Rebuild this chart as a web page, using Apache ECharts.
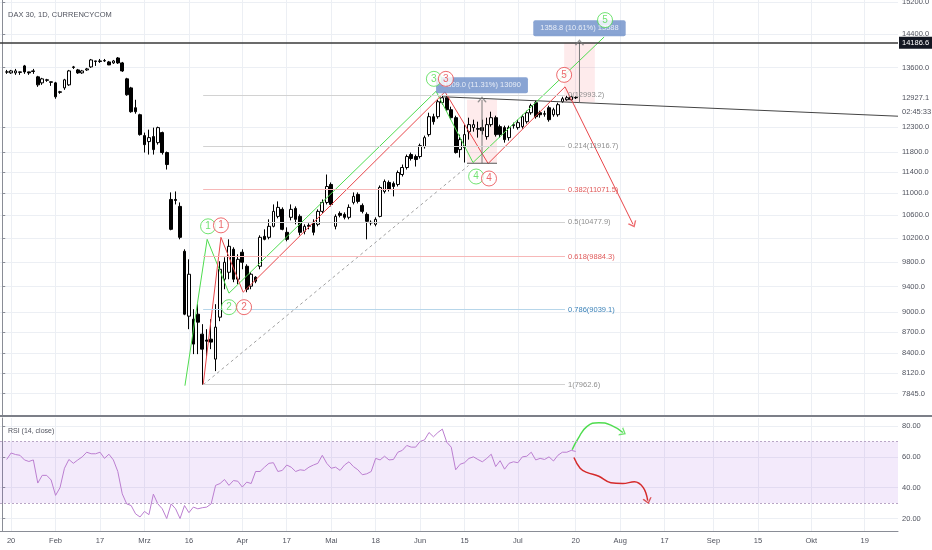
<!DOCTYPE html>
<html>
<head>
<meta charset="UTF-8">
<title>DAX 30, 1D</title>
<script src="https://cdn.jsdelivr.net/npm/echarts@6/dist/echarts.min.js"></script>
<style>
html, body { margin: 0; padding: 0; background: #fff; }
#chart { width: 932px; height: 550px; }
</style>
</head>
<body>
<div id="chart"></div>
<script>
// trading days on the time axis
var startDay = '2020-01-16';
var dayCount = 202;
var holidays = ['2020-04-10', '2020-04-13', '2020-05-01'];
var tickDates = ['2020-01-20', '2020-02-03', '2020-02-17', '2020-03-02', '2020-03-16', '2020-04-01', '2020-04-17', '2020-05-04', '2020-05-18', '2020-06-01', '2020-06-15', '2020-07-01', '2020-07-20', '2020-08-03', '2020-08-17', '2020-09-01', '2020-09-15', '2020-10-01', '2020-10-19'];
var tickTexts = ['20', 'Feb', '17', 'Mrz', '16', 'Apr', '17', 'Mai', '18', 'Jun', '15', 'Jul', '20', 'Aug', '17', 'Sep', '15', 'Okt', '19'];

// daily bars from firstBar on: [open, close, low, high]
var firstBar = '2020-01-17';
var ohlc = [
  [13500, 13505, 13460, 13550], [13482, 13527, 13460, 13550], [13482, 13527, 13437, 13573], [13505, 13495, 13437, 13510],
  [13642, 13505, 13460, 13665], [13505, 13482, 13437, 13510], [13527, 13515, 13460, 13573], [13392, 13212, 13168, 13415],
  [13257, 13347, 13212, 13370], [13325, 13315, 13280, 13347], [13280, 13270, 13190, 13285], [13257, 12949, 12906, 13280],
  [13058, 13048, 13015, 13079], [13145, 13325, 13101, 13347], [13212, 13527, 13190, 13550], [13619, 13608, 13573, 13642],
  [13550, 13482, 13460, 13573], [13482, 13527, 13460, 13550], [13550, 13573, 13527, 13596], [13619, 13780, 13596, 13803],
  [13757, 13746, 13642, 13760], [13757, 13746, 13711, 13803], [13757, 13768, 13734, 13803], [13734, 13665, 13660, 13757],
  [13711, 13757, 13688, 13780], [13826, 13711, 13688, 13849], [13711, 13527, 13505, 13734], [13347, 12993, 12971, 13370],
  [13145, 12627, 12605, 13168], [12712, 12627, 12584, 12884], [12563, 12148, 12127, 12584], [12127, 11944, 11785, 12189],
  [12005, 12086, 11745, 12250], [12107, 11844, 11745, 12292], [11984, 12292, 11944, 12312], [12189, 11785, 11745, 12209],
  [11785, 11549, 11452, 11804], [10888, 10352, 10335, 11018], [10888, 10870, 10797, 11036], [10761, 10213, 10179, 10833],
  [9975, 8970, 8955, 10009], [8940, 9596, 8746, 9841], [8895, 8528, 8385, 9046], [8970, 8850, 8385, 9123],
  [8673, 8456, 7962.6, 8820], [8586, 8571, 8350, 8746], [8600, 8557, 8456, 8895], [8315, 8776, 8148, 9123],
  [8925, 9677, 8865, 9808], [9516, 9792, 9356, 9875], [9628, 10060, 9516, 10179], [10009, 9516, 9468, 10043],
  [9516, 9841, 9436, 9925], [9959, 9792, 9677, 10009], [9726, 9356, 9309, 9759], [9404, 9596, 9356, 9628],
  [9548, 9484, 9452, 9564], [9726, 10213, 9677, 10248], [10230, 10179, 10162, 10352], [10213, 10405, 10179, 10528],
  [10405, 10671, 10387, 10797], [10581, 10743, 10546, 10852], [10707, 10352, 10335, 10743], [10300, 10179, 10145, 10387],
  [10564, 10707, 10510, 10797], [10725, 10528, 10440, 10761], [10581, 10300, 10248, 10617], [10317, 10405, 10265, 10440],
  [10422, 10405, 10352, 10458], [10475, 10300, 10248, 10528], [10440, 10671, 10405, 10707], [10671, 10833, 10635, 10888],
  [10833, 11129, 10797, 11356], [11167, 10797, 10761, 11205], [10405, 10581, 10352, 10617], [10635, 10599, 10564, 10671],
  [10617, 10564, 10528, 10653], [10564, 10743, 10528, 10797], [10833, 10944, 10797, 11018], [10981, 10852, 10815, 11018],
  [10779, 10671, 10635, 10815], [10617, 10493, 10179, 10653], [10475, 10465, 10422, 10510], [10440, 10528, 10405, 10564],
  [10581, 11111, 10564, 11148], [11036, 11223, 10999, 11261], [11205, 11073, 11036, 11242], [11186, 11129, 10944, 11223],
  [11167, 11394, 11129, 11433], [11356, 11491, 11318, 11549], [11491, 11706, 11452, 11745], [11745, 11667, 11627, 11785],
  [11706, 11647, 11510, 11745], [11706, 11924, 11667, 11964], [11904, 12086, 11864, 12127], [12148, 12521, 12107, 12605],
  [12521, 12416, 12354, 12584], [12521, 12841, 12479, 12884], [12820, 12928, 12777, 12971], [12928, 12669, 12648, 12993.2],
  [12669, 12500, 12458, 12734], [12500, 11785, 11765, 12542], [11844, 12045, 11686, 12148], [11884, 12148, 11588, 12354],
  [12209, 12354, 12045, 12500], [12292, 12354, 12209, 12458], [12271, 12260, 12086, 12416], [12292, 12230, 12148, 12458],
  [12107, 12354, 12045, 12500], [12354, 12500, 12312, 12627], [12500, 12148, 12107, 12542], [12312, 12148, 12086, 12354],
  [12292, 12045, 11984, 12333], [12086, 12292, 12025, 12333], [12333, 12354, 12271, 12396], [12292, 12396, 12250, 12458],
  [12312, 12521, 12271, 12563], [12416, 12605, 12375, 12648], [12605, 12755, 12563, 12798], [12820, 12521, 12479, 12863],
  [12605, 12563, 12500, 12648], [12584, 12574, 12521, 12648], [12712, 12458, 12416, 12755], [12563, 12669, 12521, 12712],
  [12563, 12777, 12521, 12820], [12841, 12906, 12820, 12949], [12884, 12928, 12863, 12971], [12884, 12949, 12863, 12971],
  [12935, 12927.1, 12900, 12960]
];
var rsi = [
  58.3, 62.5, 61.5, 61, 58, 57, 58, 43, 48, 48, 45, 35, 40, 52.6, 58.3, 55.8, 58, 60, 63, 62, 62, 63, 59, 61.7, 58, 50.5,
  36, 29.5, 28.4, 23, 21, 24.6, 22.5, 35.8, 29.5, 26.3, 20, 29.5, 26.3, 20, 28.4, 23.8, 27.4, 26.3, 27, 27.4, 29.5,
  41.5, 42.7, 45.3, 41.5, 44.6, 44.2, 40.4, 43.6, 42.7, 50.5, 50.5, 53.3, 55.8, 56.2, 50.5, 51.2, 54.7, 53.3, 50.5,
  51.6, 51.2, 53.3, 54.7, 55.8, 61, 55.8, 52.6, 53.3, 51.2, 54.7, 56.8, 53.7, 51.6, 48.4, 49, 50.5, 59, 58, 60.4, 58,
  58.3, 63, 64.2, 67.4, 66.3, 66.3, 70, 71, 75.8, 73, 75.8, 78, 69.5, 66.3, 51.6, 55.2, 56.2, 59, 60, 58.3, 56.8, 59,
  61.7, 53.7, 57.5, 52, 55.8, 56.8, 56.2, 60, 60.4, 63, 58, 59, 58.3, 60, 57.3, 61, 63, 63, 64.2, 63.5
];

// price axis labels
var priceTicks = [7845, 8120, 8400, 8700, 9000, 9400, 9800, 10200, 10600, 11000, 11400, 11800, 12300, 13600, 14400, 15200];
var rsiTicks = [20, 40, 60, 80];
var resistance = 14186.6;
var lastPrice = 12927.1;
var countdown = '02:45:33';

// drawings, as [bar index, price]
var greenWave = [[41.1, 7950], [46.1, 10179], [51.0, 9294], [97.6, 13070], [105.9, 11588], [135.4, 14325]];
var redWave = [[45.2, 7962.6], [49.2, 10213], [54.2, 9309], [99.6, 13058], [109.3, 11569], [126.6, 13168], [141.9, 10440]];
var greenMarks = [['1', 46.3, 10405], ['2', 51.0, 9077], ['3', 97.1, 13347], ['4', 106.6, 11318], ['5', 135.6, 14740]];
var redMarks = [['1', 49.2, 10422], ['2', 54.4, 9077], ['3', 99.8, 13347], ['4', 109.5, 11280], ['5', 126.4, 13437]];
var dashedLine = [[45.2, 7962.6], [104.9, 11530]];
var trendLine = [[99.2, 12949], [201.5, 12531]];

var fibFrom = 45.2, fibTo = 126.6;
var fibLevels = ['0', '0.214', '0.382', '0.5', '0.618', '0.786', '1'];
var fibPrices = [12993.2, 11916.7, 11071.5, 10477.9, 9884.3, 9039.1, 7962.6];

// price range tool: [from bar, to bar, low, high]
var ranges = [[104.55, 111.3, 11574, 12883], [126.4, 133.3, 12828, 14186.6]];
var rangeTexts = ['1309.0 (11.31%) 13090', '1358.8 (10.61%) 13588'];

// hand drawn rsi paths, as [bar index, rsi]
var rsiUp = [[128.2, 64.6], [129.5, 71.6], [131.5, 79.6], [134.2, 82.1], [136.9, 80.6], [139.6, 75.8]];
var rsiDown = [[128.6, 59.6], [130, 52.6], [131.5, 49.9], [134.2, 47.4], [136.9, 43.2], [139.6, 42.7], [142.2, 43.8], [144.2, 40], [145.2, 31.6]];

var GREEN = '#4fdc4f', RED = '#e8464a';
var font = 'Liberation Sans, Arial, sans-serif';
var chevron = 'path://M0,0L5,6L10,0';

var days = [];
var d = new Date(startDay + 'T00:00:00Z');
while (days.length < dayCount) {
  var s = d.toISOString().slice(0, 10);
  var wd = d.getUTCDay();
  if (wd !== 0 && wd !== 6 && holidays.indexOf(s) < 0) days.push(s);
  d.setUTCDate(d.getUTCDate() + 1);
}
var tickText = {};
tickDates.forEach(function (t, j) { tickText[t] = tickTexts[j]; });
var tickK = tickDates.map(function (t) { return days.indexOf(t); });
function isTick(idx, val) { return tickText[val] !== undefined; }

var first = days.indexOf(firstBar);
var candles = ohlc.map(function (v, j) { return [first + j, v[0], v[1], v[2], v[3]]; });
var rsiData = rsi.map(function (v, j) { return [first + j, v]; });

function circles(list, color) {
  return list.map(function (m) {
    return { name: m[0], value: [m[1], m[2]], itemStyle: { borderColor: color }, label: { color: color } };
  });
}

var chart = echarts.init(document.getElementById('chart'));
var gridLine = { color: '#eceff4', width: 1 };
var axisText = { fontSize: 7.5, color: '#50535e', fontFamily: font };

var option = {
  animation: false,
  textStyle: { fontFamily: font },
  title: [
    { text: 'DAX 30, 1D, CURRENCYCOM', left: 3, top: 6, textStyle: { fontSize: 7.5, fontWeight: 'normal', color: '#50535e' } },
    { text: 'RSI (14, close)', left: 3, top: 423, textStyle: { fontSize: 7, fontWeight: 'normal', color: '#50535e' } }
  ],
  graphic: [
    { type: 'rect', shape: { x: 0, y: 415, width: 932, height: 2 }, style: { fill: '#7c7f88' }, z: 10 }
  ],
  grid: [
    { left: 0, right: 34, top: 0, height: 415, outerBoundsMode: 'none' },
    { left: 0, right: 34, top: 418, height: 113, outerBoundsMode: 'none' }
  ],
  xAxis: [
    { type: 'category', gridIndex: 0, data: days, axisLine: { show: false }, axisTick: { show: false }, axisLabel: { show: false }, splitLine: { show: false } },
    { type: 'value', gridIndex: 0, min: -0.5, max: dayCount - 0.5, axisLine: { show: false }, axisLabel: { show: false },
      axisTick: { show: false, customValues: tickK }, splitLine: { show: true, lineStyle: gridLine } },
    { type: 'category', gridIndex: 1, data: days,
      axisLine: { lineStyle: { color: '#8a8d96' } },
      axisTick: { interval: isTick, alignWithLabel: true, length: 3, lineStyle: { color: '#8a8d96' } },
      axisLabel: Object.assign({ interval: isTick, margin: 6, formatter: function (v) { return tickText[v] || ''; } }, axisText),
      splitLine: { show: false } },
    { type: 'value', gridIndex: 1, min: -0.5, max: dayCount - 0.5, axisLine: { show: false }, axisLabel: { show: false },
      axisTick: { show: false, customValues: tickK }, splitLine: { show: true, lineStyle: gridLine } }
  ],
  yAxis: [
    { type: 'log', gridIndex: 0, position: 'right', min: 7566, max: 15248,
      axisLine: { show: true, lineStyle: { color: '#8a8d96' } },
      axisTick: { show: true, length: 3, customValues: priceTicks, lineStyle: { color: '#8a8d96' } },
      axisLabel: Object.assign({ customValues: priceTicks, margin: 4, formatter: function (v) { return v.toFixed(1); } }, axisText),
      splitLine: { show: true, lineStyle: gridLine } },
    { type: 'value', gridIndex: 1, position: 'right', min: 11.9, max: 85.2,
      axisLine: { show: true, lineStyle: { color: '#8a8d96' } },
      axisTick: { show: true, length: 3, customValues: rsiTicks, lineStyle: { color: '#8a8d96' } },
      axisLabel: Object.assign({ customValues: rsiTicks, margin: 4, formatter: function (v) { return v.toFixed(2); } }, axisText),
      splitLine: { show: true, lineStyle: gridLine } }
  ],
  series: [
    {
      type: 'line', xAxisIndex: 1, yAxisIndex: 0, data: [], silent: true, z: 1,
      markArea: {
        silent: true, itemStyle: { color: 'rgba(242, 54, 69, 0.1)' },
        data: ranges.map(function (r) { return [{ coord: [r[0], r[2]] }, { coord: [r[1], r[3]] }]; })
      }
    },
    {
      type: 'line', xAxisIndex: 1, yAxisIndex: 0, data: [], silent: true, z: 1,
      markLine: {
        silent: true, symbol: ['none', 'none'],
        label: { position: 'end', distance: 3, fontSize: 7.5, fontFamily: font },
        data: fibLevels.map(function (lv, j) {
          var red = lv === '0.382' || lv === '0.618', blue = lv === '0.786';
          return [
            { coord: [fibFrom, fibPrices[j]],
              lineStyle: { type: 'solid', width: 1, color: red ? '#f7b8b8' : blue ? '#b7d6ea' : '#d2d2d2' },
              label: { formatter: lv + '(' + fibPrices[j] + ')', color: red ? '#e05a5a' : blue ? '#3b82b8' : '#8f8f8f' } },
            { coord: [fibTo, fibPrices[j]] }
          ];
        })
      }
    },
    {
      type: 'candlestick', xAxisIndex: 0, yAxisIndex: 0, data: candles, encode: { x: 0, y: [1, 2, 3, 4] },
      barWidth: 3.2, silent: true, z: 3,
      itemStyle: { color: '#ffffff', color0: '#000000', borderColor: '#000000', borderColor0: '#000000', borderWidth: 1 },
      markLine: {
        silent: true, symbol: ['none', 'none'],
        data: [
          { yAxis: resistance, lineStyle: { type: 'solid', color: '#3a3a3a', width: 1.5 },
            label: { position: 'end', distance: 1, formatter: String(resistance), color: '#fff', backgroundColor: '#131722', padding: [2, 3, 2, 3], fontSize: 7.5 } },
          { yAxis: lastPrice, lineStyle: { color: 'rgba(0,0,0,0)', width: 0 },
            label: { show: true, position: 'end', distance: 4, offset: [0, 7], fontSize: 7.5, color: '#50535e', lineHeight: 14,
              formatter: lastPrice + '\n' + countdown } }
        ]
      }
    },
    { type: 'line', xAxisIndex: 1, yAxisIndex: 0, data: trendLine, symbol: 'none', silent: true, z: 4,
      lineStyle: { color: '#444', width: 1 } },
    { type: 'line', xAxisIndex: 1, yAxisIndex: 0, data: dashedLine, symbol: 'none', silent: true, z: 2,
      lineStyle: { color: '#a0a0a0', width: 1, type: [3, 3] } },
    { type: 'line', xAxisIndex: 1, yAxisIndex: 0, data: greenWave, symbol: 'none', silent: true, z: 4,
      lineStyle: { color: GREEN, width: 1 } },
    { type: 'line', xAxisIndex: 1, yAxisIndex: 0, data: redWave, symbol: 'none', silent: true, z: 4,
      lineStyle: { color: RED, width: 1 } }
  ].concat(ranges.map(function (r) {
    var mid = (r[0] + r[1]) / 2;
    return { type: 'line', xAxisIndex: 1, yAxisIndex: 0, data: [[mid, r[2]], [mid, r[3]]], symbol: 'none', silent: true, z: 4,
      lineStyle: { color: '#7a7a7a', width: 1 } };
  })).concat([
    { type: 'line', xAxisIndex: 1, yAxisIndex: 0, data: [[ranges[0][0], ranges[0][2]], [ranges[0][1], ranges[0][2]]],
      symbol: 'none', silent: true, z: 4, lineStyle: { color: '#555', width: 1 } },
    {
      type: 'scatter', xAxisIndex: 1, yAxisIndex: 0, silent: true, z: 5, symbol: chevron, symbolSize: [8, 5],
      itemStyle: { color: 'rgba(0,0,0,0)', borderWidth: 1.2 },
      data: [
        { value: redWave[redWave.length - 1], symbolRotate: 26, itemStyle: { borderColor: RED } },
        { value: [(ranges[0][0] + ranges[0][1]) / 2, ranges[0][3]], symbolRotate: 180, itemStyle: { borderColor: '#7a7a7a' } },
        { value: [(ranges[1][0] + ranges[1][1]) / 2, ranges[1][3]], symbolRotate: 180, itemStyle: { borderColor: '#7a7a7a' } }
      ]
    },
    {
      type: 'scatter', xAxisIndex: 1, yAxisIndex: 0, silent: true, z: 6, symbolSize: 1,
      itemStyle: { color: 'rgba(0,0,0,0)' },
      label: { show: true, position: 'top', distance: 6, color: '#fff', fontSize: 7.5, backgroundColor: '#6b8dc8',
        padding: [4, 7, 4, 7], borderRadius: 2, formatter: '{b}' },
      data: ranges.map(function (r, j) { return { name: rangeTexts[j], value: [(r[0] + r[1]) / 2, r[3]] }; })
    },
    {
      type: 'scatter', xAxisIndex: 1, yAxisIndex: 0, silent: true, z: 7, symbol: 'circle', symbolSize: 15,
      itemStyle: { color: '#ffffff', borderWidth: 1 },
      label: { show: true, position: 'inside', fontSize: 10, formatter: '{b}' },
      data: circles(greenMarks, GREEN).concat(circles(redMarks, RED))
    },
    {
      type: 'line', xAxisIndex: 2, yAxisIndex: 1, data: rsiData, symbol: 'none', silent: true, z: 3,
      lineStyle: { color: '#bb7ed0', width: 1 },
      markArea: { silent: true, itemStyle: { color: 'rgba(150, 60, 220, 0.11)' }, data: [[{ yAxis: 30 }, { yAxis: 70 }]] },
      markLine: { silent: true, symbol: ['none', 'none'], label: { show: false },
        lineStyle: { color: '#b9a6c6', type: [2, 2], width: 1 }, data: [{ yAxis: 30 }, { yAxis: 70 }] }
    },
    { type: 'line', xAxisIndex: 3, yAxisIndex: 1, data: rsiUp, smooth: 0.5, symbol: 'none', silent: true, z: 4,
      lineStyle: { color: GREEN, width: 1.5 } },
    { type: 'line', xAxisIndex: 3, yAxisIndex: 1, data: rsiDown, smooth: 0.4, symbol: 'none', silent: true, z: 4,
      lineStyle: { color: '#d52b2b', width: 1.5 } },
    {
      type: 'scatter', xAxisIndex: 3, yAxisIndex: 1, silent: true, z: 5, symbol: chevron, symbolSize: [8, 5],
      itemStyle: { color: 'rgba(0,0,0,0)', borderWidth: 1.2 },
      data: [
        { value: rsiUp[rsiUp.length - 1], symbolRotate: 60, itemStyle: { borderColor: GREEN } },
        { value: rsiDown[rsiDown.length - 1], symbolRotate: 15, itemStyle: { borderColor: '#d52b2b' } }
      ]
    }
  ])
};
chart.setOption(option);
</script>
</body>
</html>
